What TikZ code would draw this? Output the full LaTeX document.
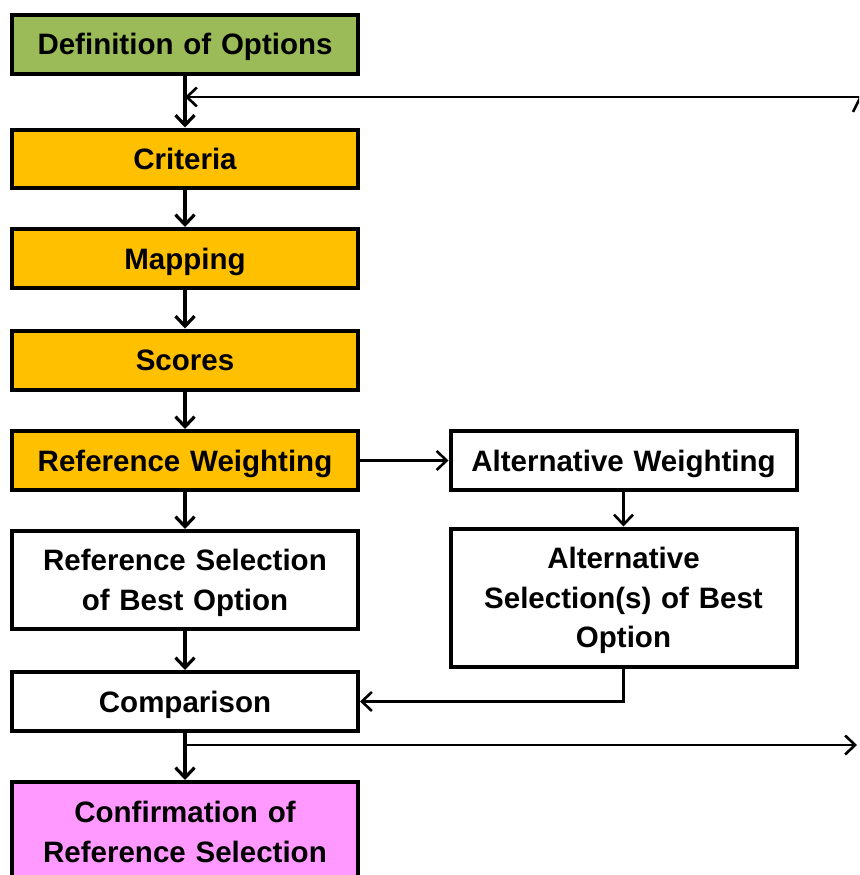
\documentclass[tikz,border=0pt]{standalone}
\usepackage{fontspec}
\setmainfont{Liberation Sans}
\usetikzlibrary{arrows.meta}
\definecolor{defgreen}{HTML}{9BBB59}
\definecolor{steporange}{HTML}{FFC000}
\definecolor{confpink}{HTML}{FF99FF}
\begin{document}
\begin{tikzpicture}[x=1pt,y=-1pt,
  box/.style={draw=black, line width=4pt, minimum width=346pt, text width=340pt,
    align=center, inner sep=0pt, text height=27pt, text depth=6pt,
    font=\bfseries\fontsize{29.5}{39.5}\selectfont},
  twolines/.style={text depth=45.5pt},
  threelines/.style={text depth=85pt},
  arr/.style={line width=3.2pt, -{Straight Barb[length=10pt,width=19pt]}},
  thinarr/.style={line width=2.6pt, -{Straight Barb[length=10pt,width=19pt]}}]
\useasboundingbox (0,0) rectangle (859,875);
\clip (0,0) rectangle (859,875);
\node[box, fill=defgreen, minimum height=59pt] (def) at (185,44.5) {Definition of Options};
\node[box, fill=steporange, minimum height=58pt] (crit) at (185,158.5) {Criteria};
\node[box, fill=steporange, minimum height=59pt] (map) at (185,258.5) {Mapping};
\node[box, fill=steporange, minimum height=59pt] (sco) at (185,360) {Scores};
\node[box, fill=steporange, minimum height=59pt] (refw) at (185,460.5) {Reference Weighting};
\node[box, fill=white, minimum height=59pt] (altw) at (623.5,460.5) {Alternative Weighting};
\node[box, twolines, fill=white, minimum height=98pt] (refsel) at (185,580) {Reference Selection\\of Best Option};
\node[box, threelines, fill=white, minimum height=138pt] (altsel) at (623.5,597.5) {Alternative\\Selection(s) of Best\\Option};
\node[box, fill=white, minimum height=59pt] (comp) at (185,701.5) {Comparison};
\node[box, fill=confpink, minimum height=110pt] (conf) at (185,837) {};
\node[font=\bfseries\fontsize{29.5}{39.5}\selectfont, align=center, inner sep=0pt,
  text width=340pt, text height=27pt, text depth=45.5pt] (conftext) at (185,832) {Confirmation of\\Reference Selection};

\coordinate (topin) at (185,97);
\coordinate (topfar) at (870,97);
\coordinate (botout) at (185,745);
\coordinate (botfar) at (857,745);
\coordinate (altturn) at (altsel.south |- comp.east);

\draw[arr] (def) -- (crit);
\draw[thinarr] (topfar) -- (topin);
\draw[line width=2.6pt] (853,112) -- (860,98);
\draw[arr] (crit) -- (map);
\draw[arr] (map) -- (sco);
\draw[arr] (sco) -- (refw);
\draw[thinarr] (refw) -- (altw);
\draw[thinarr] (altw) -- (altsel);
\draw[arr] (refw) -- (refsel);
\draw[arr] (refsel) -- (comp);
\draw[thinarr] (altsel.south) -- (altturn) -- (comp.east);
\draw[arr] (comp) -- (conf);
\draw[thinarr] (botout) -- (botfar);
\end{tikzpicture}
\end{document}
